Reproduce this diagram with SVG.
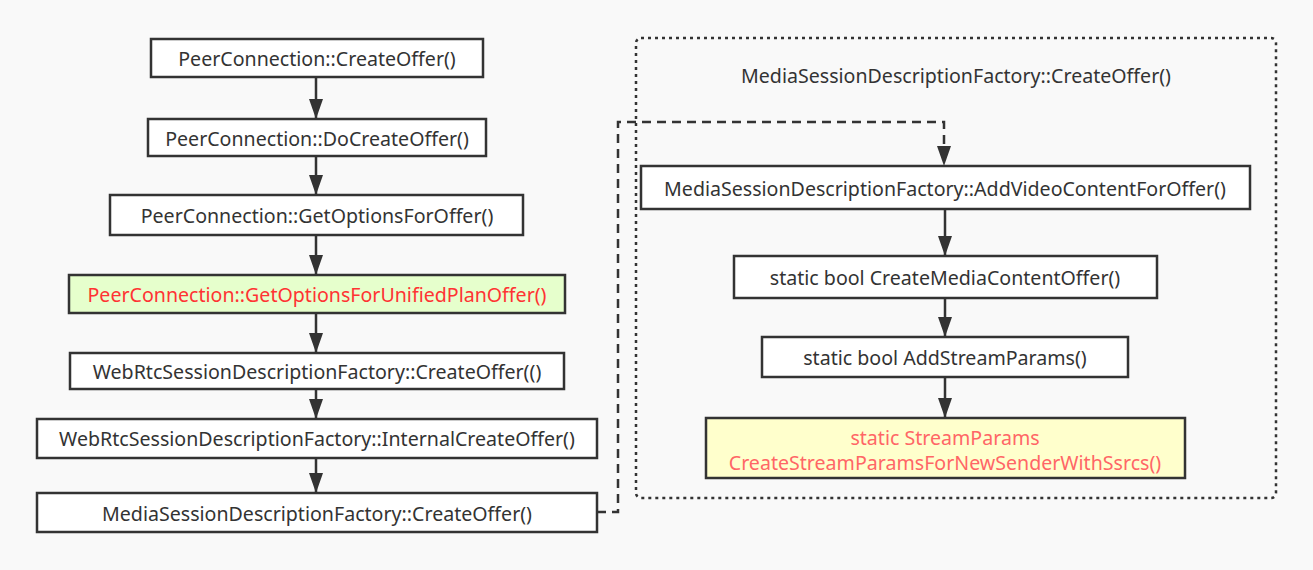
<svg xmlns="http://www.w3.org/2000/svg" width="1313" height="570" viewBox="0 0 1313 570">
<style>
.bg{fill:#f9f9f9}
.box{fill:#ffffff;stroke:#333333;stroke-width:2.5}
.t{font-family:"Noto Sans","Open Sans","DejaVu Sans",sans-serif;font-size:19.6px;fill:#333333;text-anchor:middle;dominant-baseline:central}
.red{fill:#ff3333}
.pink{fill:#ff6666}
.edge{stroke:#333333;stroke-width:2.5;fill:none}
</style>
<defs>
<marker id="ah" viewBox="0 0 20 14" refX="20" refY="7" markerWidth="20" markerHeight="14" markerUnits="userSpaceOnUse" orient="auto">
<path d="M0,0 L20,7 L0,14 z" fill="#333333"/>
</marker>
</defs>
<rect class="bg" x="0" y="0" width="1313" height="570"/>
<g id="container">
<rect x="636" y="38" width="640" height="460" rx="5" fill="none" stroke="#333333" stroke-width="2.5" stroke-dasharray="3,4"/>
<text class="t" x="956" y="75">MediaSessionDescriptionFactory::CreateOffer()</text>
</g>
<g id="n1"><rect class="box" x="151" y="39" width="332" height="38"/><text class="t" x="317" y="58">PeerConnection::CreateOffer()</text></g>
<g id="n2"><rect class="box" x="148" y="119" width="338" height="37"/><text class="t" x="317" y="138">PeerConnection::DoCreateOffer()</text></g>
<g id="n3"><rect class="box" x="110" y="195" width="413" height="40"/><text class="t" x="317" y="215">PeerConnection::GetOptionsForOffer()</text></g>
<g id="n4"><rect class="box" x="69" y="275" width="496" height="38" style="fill:#e6ffcc"/><text class="t red" x="317" y="294">PeerConnection::GetOptionsForUnifiedPlanOffer()</text></g>
<g id="n5"><rect class="box" x="70" y="353" width="494" height="36"/><text class="t" x="317" y="371">WebRtcSessionDescriptionFactory::CreateOffer(()</text></g>
<g id="n6"><rect class="box" x="37" y="419" width="560" height="39"/><text class="t" x="317" y="438">WebRtcSessionDescriptionFactory::InternalCreateOffer()</text></g>
<g id="n7"><rect class="box" x="37" y="493" width="560" height="39"/><text class="t" x="317" y="513">MediaSessionDescriptionFactory::CreateOffer()</text></g>
<g id="r1"><rect class="box" x="641" y="166" width="609" height="43"/><text class="t" x="945" y="188">MediaSessionDescriptionFactory::AddVideoContentForOffer()</text></g>
<g id="r2"><rect class="box" x="734" y="256" width="423" height="42"/><text class="t" x="945" y="277">static bool CreateMediaContentOffer()</text></g>
<g id="r3"><rect class="box" x="762" y="337" width="366" height="40"/><text class="t" x="945" y="357">static bool AddStreamParams()</text></g>
<g id="r4"><rect class="box" x="706" y="418" width="479" height="60" style="fill:#ffffcc"/><text class="t pink" x="945" y="437">static StreamParams</text><text class="t pink" x="945" y="462">CreateStreamParamsForNewSenderWithSsrcs()</text></g>
<g id="connectors">
<line class="edge" x1="316" y1="77" x2="316" y2="119" marker-end="url(#ah)"/>
<line class="edge" x1="316" y1="156" x2="316" y2="195" marker-end="url(#ah)"/>
<line class="edge" x1="316" y1="235" x2="316" y2="275" marker-end="url(#ah)"/>
<line class="edge" x1="316" y1="313" x2="316" y2="353" marker-end="url(#ah)"/>
<line class="edge" x1="316" y1="389" x2="316" y2="419" marker-end="url(#ah)"/>
<line class="edge" x1="316" y1="458" x2="316" y2="493" marker-end="url(#ah)"/>
<path class="edge" d="M597,512 H618 V122 H944 V166" stroke-dasharray="9,6" marker-end="url(#ah)"/>
<line class="edge" x1="945" y1="209" x2="945" y2="256" marker-end="url(#ah)"/>
<line class="edge" x1="945" y1="298" x2="945" y2="337" marker-end="url(#ah)"/>
<line class="edge" x1="945" y1="377" x2="945" y2="418" marker-end="url(#ah)"/>
</g>
</svg>
